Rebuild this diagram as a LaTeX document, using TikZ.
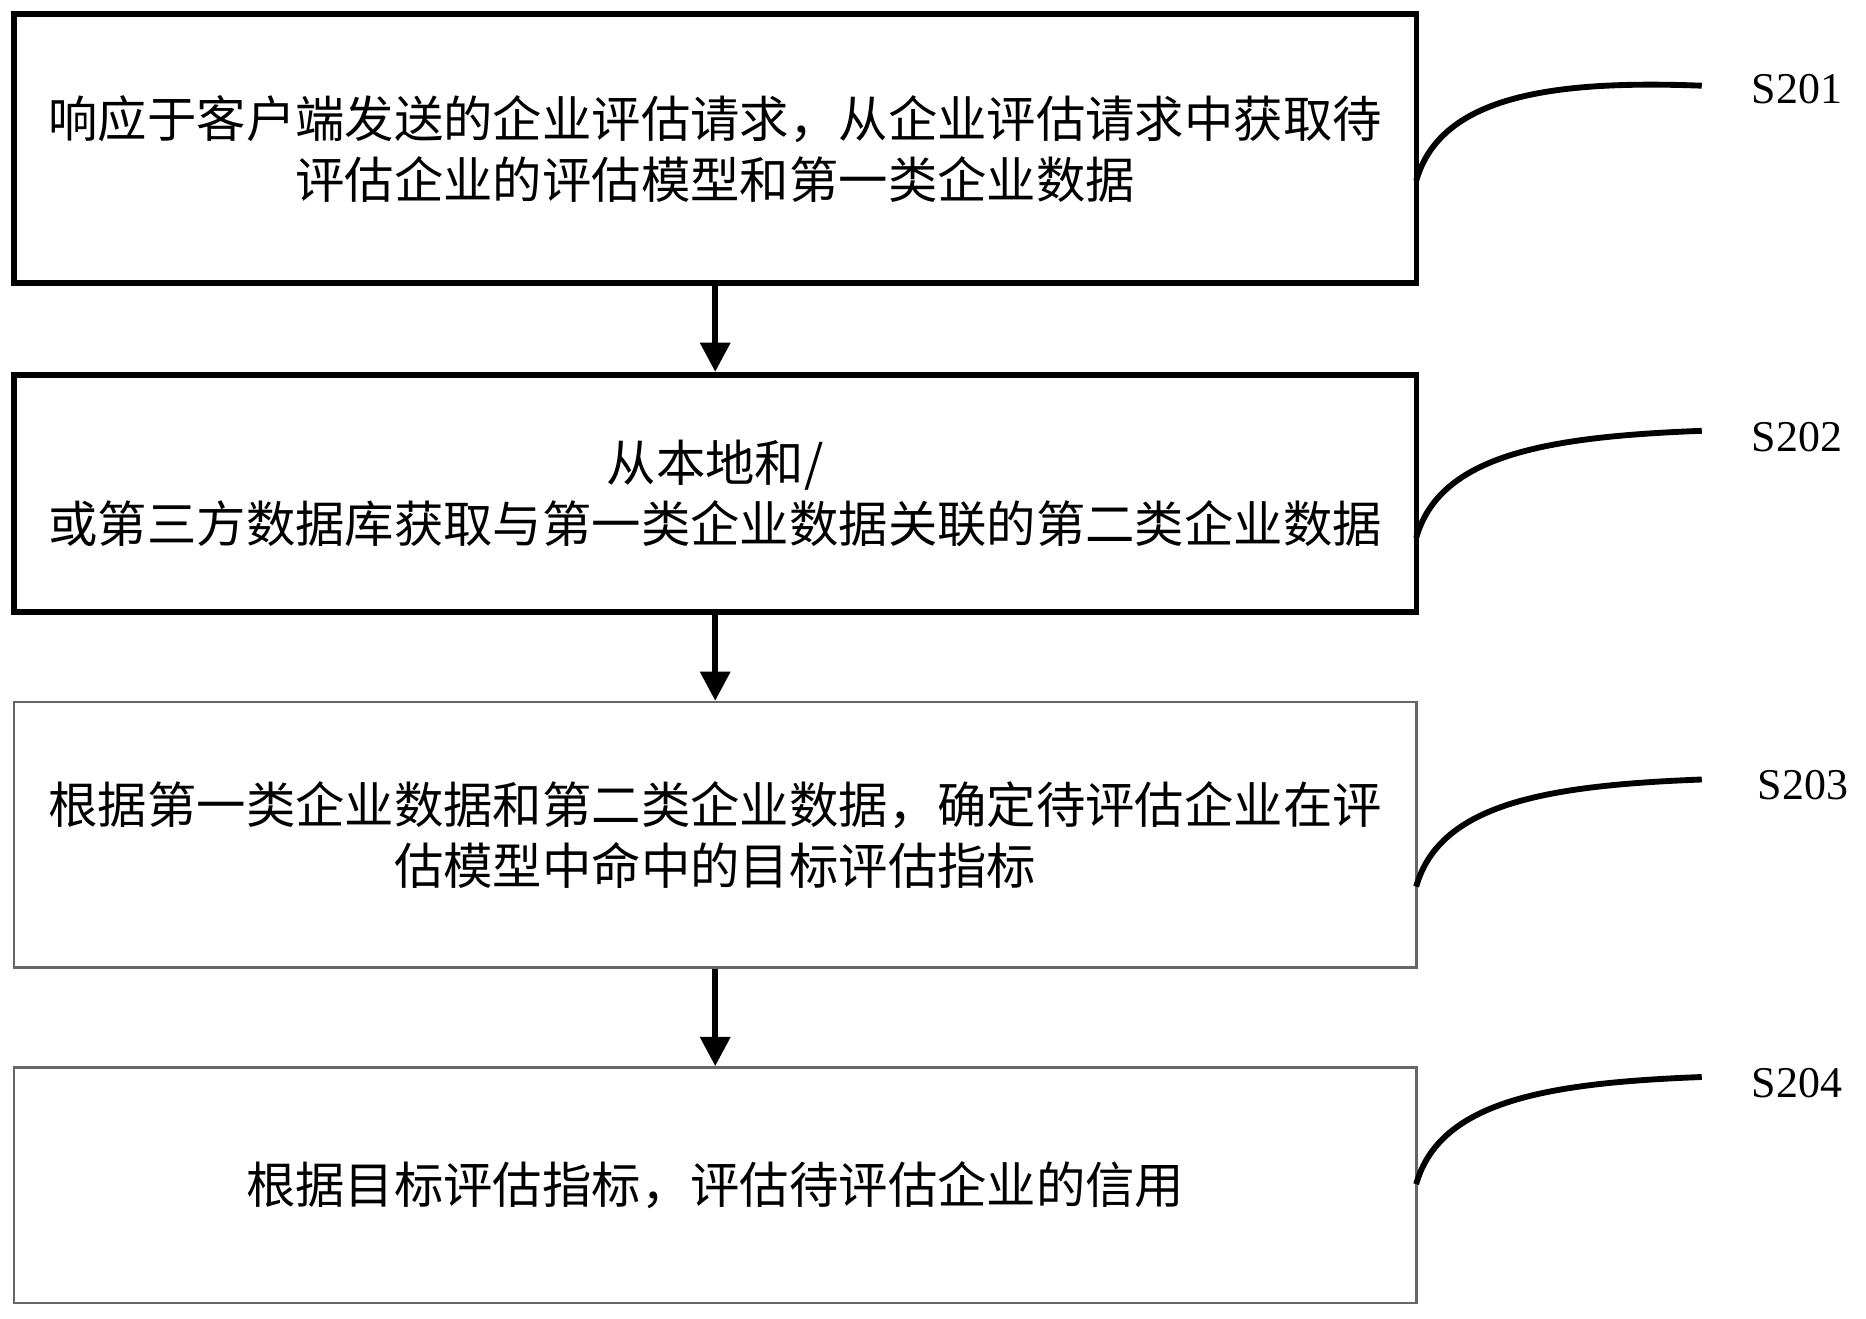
\documentclass[tikz,border=0pt]{standalone}
\usepackage{fontspec}
\setmainfont{Liberation Serif}
\newfontfamily\cjk{Noto Sans CJK SC}
\usetikzlibrary{arrows.meta}
\begin{document}
\begin{tikzpicture}[x=0.01cm,y=-0.01cm,
 box/.style={draw,line width=1.4pt,inner sep=0,align=center,font=\cjk\fontsize{11.8pt}{14.5pt}\selectfont},
 lbox/.style={box,draw=black!60,line width=0.6pt},
 arr/.style={-{Triangle[length=7pt,width=7pt]},line width=1.4pt},
 lab/.style={font=\fontsize{10.5pt}{12pt}\selectfont},
 crv/.style={line width=1.4pt}]
\useasboundingbox (0,0) rectangle (1568,1108);
\node[box,minimum width=11.78cm,minimum height=2.26cm] (b1) at (601,125) {响应于客户端发送的企业评估请求，从企业评估请求中获取待\\评估企业的评估模型和第一类企业数据};
\node[box,minimum width=11.78cm,minimum height=1.99cm] (b2) at (601,414.5) {从本地和/\\或第三方数据库获取与第一类企业数据关联的第二类企业数据};
\node[lbox,minimum width=11.78cm,minimum height=2.23cm] (b3) at (601,701.5) {根据第一类企业数据和第二类企业数据，确定待评估企业在评\\估模型中命中的目标评估指标};
\node[lbox,minimum width=11.78cm,minimum height=1.98cm] (b4) at (601,996) {根据目标评估指标，评估待评估企业的信用};
\draw[arr] (b1.south) -- (b2.north);
\draw[arr] (b2.south) -- (b3.north);
\draw[arr] (b3.south) -- (b4.north);
\node[lab] (s1) at (1510,75) {S201};
\node[lab] (s2) at (1510,367) {S202};
\node[lab] (s3) at (1515,660) {S203};
\node[lab] (s4) at (1510,910) {S204};
\coordinate (c1) at (1430,72);
\coordinate (c2) at (1430,362);
\coordinate (c3) at (1430,655);
\coordinate (c4) at (1430,905);
\foreach \b/\c/\y in {b1/c1/152,b2/c2/452,b3/c3/745,b4/c4/995}{
 \draw[crv] (1190,\y) .. controls (1210,\y-70) and (1300,\y-85) .. (\c);
}
\end{tikzpicture}
\end{document}
